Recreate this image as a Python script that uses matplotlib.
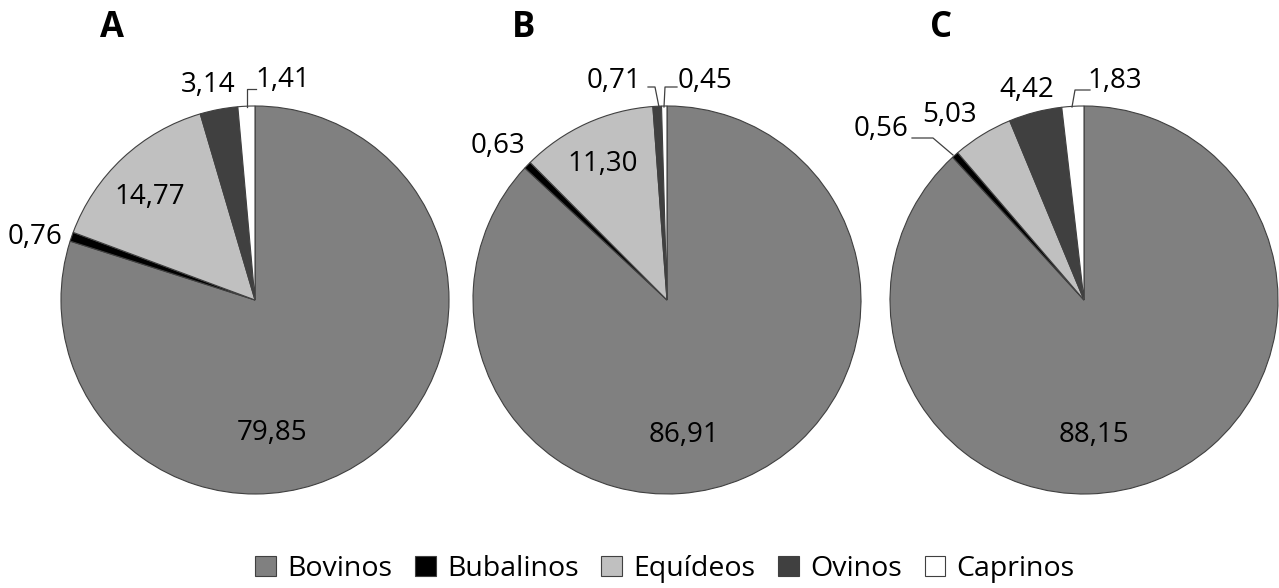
import matplotlib
matplotlib.use('Agg')
import matplotlib.pyplot as plt

# participação (%) de cada rebanho
species = ['Bovinos', 'Bubalinos', 'Equídeos', 'Ovinos', 'Caprinos']
vals_a = [79.85, 0.76, 14.77, 3.14, 1.41]
vals_b = [86.91, 0.63, 11.30, 0.71, 0.45]
vals_c = [88.15, 0.56, 5.03, 4.42, 1.83]
panel_titles = ['A', 'B', 'C']

colors = ['#808080', '#000000', '#c0c0c0', '#404040', '#ffffff']

W, H = 1279, 588
plt.rcParams['font.family'] = ['Open Sans', 'DejaVu Sans']

fig = plt.figure(figsize=(W / 100, H / 100), dpi=100)
ax = fig.add_axes([0, 0, 1, 1])

# centros das pizzas e raio, em pixels (y medido de cima)
centers = [(255, 300), (667, 300), (1084, 300)]
radius = 194

# posição de cada rótulo (pixels, y medido de cima), na ordem de species
label_pos = [
    [(272, 433), (35, 237), (150, 197), (208, 85), (283, 80)],
    [(684, 435), (498, 146), (603, 164), (614, 81), (705, 81)],
    [(1094, 435), (881, 129), (950, 115), (1027, 90), (1115, 81)],
]
# linhas de chamada das fatias pequenas
leaders = [
    [[(256, 89), (247, 89), (247, 107)]],
    [[(648, 87), (655, 87), (659, 107)], [(677, 87), (665, 87), (664, 107)]],
    [[(912, 138), (933, 138), (953, 155)], [(1090, 90), (1075, 90), (1072, 107)]],
]

wedges_all = []
for vals, (cx, cy), pos, title, lines in zip([vals_a, vals_b, vals_c], centers,
                                             label_pos, panel_titles, leaders):
    wedges, _ = ax.pie(vals, colors=colors, startangle=90, counterclock=False,
                       center=(cx, H - cy), radius=radius,
                       wedgeprops=dict(edgecolor='#404040', linewidth=0.8))
    wedges_all.append(wedges)
    for v, (px, py) in zip(vals, pos):
        ax.text(px, H - py, f'{v:.2f}'.replace('.', ','), ha='center', va='center',
                fontsize=20, color='black')
    for ln in lines:
        ax.plot([p[0] for p in ln], [H - p[1] for p in ln], color='#404040', lw=0.9)
    ax.text(cx - 143, H - 28, title, ha='center', va='center', fontsize=25,
            fontweight='bold')

ax.set_xlim(0, W)
ax.set_ylim(0, H)
ax.set_aspect('equal')
ax.axis('off')

ax.legend(wedges_all[0], species, loc='center', ncol=5, frameon=False,
          bbox_to_anchor=(665, 19), bbox_transform=ax.transData,
          fontsize=20.5, handlelength=0.72, handleheight=0.72,
          handletextpad=0.4, columnspacing=0.8)

plt.savefig('out.png', dpi=100)
plt.close()
